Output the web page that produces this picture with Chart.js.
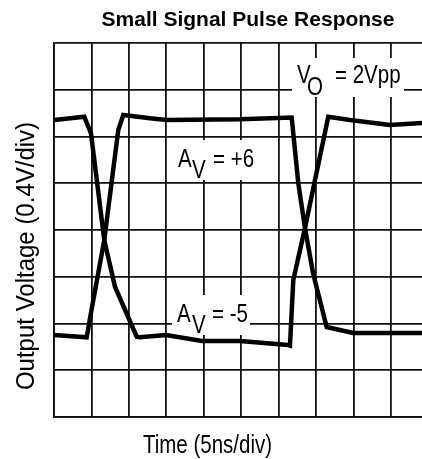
<!DOCTYPE html>
<html>
<head>
<meta charset="utf-8">
<script src="https://cdn.jsdelivr.net/npm/chart.js@4"></script>
<style>
  html, body { margin: 0; padding: 0; background: #fff; }
  #wrap { width: 422px; height: 459px; }
</style>
</head>
<body>
<div id="wrap"><canvas id="c" width="422" height="459"></canvas></div>
<script>
// ---- data (grid divisions: x = 5 ns/div, y = 0.4 V/div) ----
const gainPlusTime  = [0, 0.873, 0.988, 1.343, 1.717, 1.851, 2.564, 3.010, 4.968, 6.349, 6.525, 6.704, 6.918, 7.284, 7.986, 9.83];
const gainPlusVolt  = [1.754, 1.705, 2.225, 3.786, 6.139, 6.460, 6.389, 6.353, 6.368, 6.406, 5.005, 4.043, 3.080, 1.925, 1.797, 1.797];
const gainMinusTime = [0, 0.809, 0.988, 1.343, 1.629, 2.209, 2.297, 2.991, 3.953, 4.968, 6.250, 6.303, 6.392, 6.704, 7.326, 7.906, 8.974, 9.83];
const gainMinusVolt = [6.353, 6.424, 6.068, 3.786, 2.787, 1.718, 1.705, 1.754, 1.626, 1.626, 1.540, 1.529, 2.930, 4.043, 6.424, 6.353, 6.246, 6.289];
const xDivTicks = [0, 1, 2, 3, 4, 5, 6, 7, 8, 9];
const yDivTicks = [0, 1, 2, 3, 4, 5, 6, 7, 8];

const chartTitle = 'Small Signal Pulse Response';
const xAxisTitle = 'Time (5ns/div)';
const yAxisTitle = 'Output Voltage (0.4V/div)';
const labelVo = ['V', 'O', '= 2Vpp'];
const labelPlus = ['A', 'V', '= +6'];
const labelMinus = ['A', 'V', '= -5'];

const pts = (xs, ys) => xs.map((x, i) => ({ x: x, y: ys[i] }));

const NARROW = 0.82;
const FONT = 'Liberation Sans, Arial, sans-serif';

function narrowText(ctx, text, x, y, size, opts) {
  opts = opts || {};
  ctx.save();
  ctx.font = (opts.bold ? 'bold ' : '') + size + 'px ' + FONT;
  ctx.fillStyle = '#000';
  ctx.textBaseline = 'alphabetic';
  ctx.textAlign = opts.align || 'left';
  ctx.translate(x, y);
  if (opts.rotate) ctx.rotate(opts.rotate);
  ctx.scale(opts.sx || NARROW, 1);
  ctx.fillText(text, 0, 0);
  ctx.restore();
}

function subLabel(ctx, parts, x, y, xs, xr, subDy) {
  narrowText(ctx, parts[0], x, y, 25);
  narrowText(ctx, parts[1], xs, y + subDy, 25);
  narrowText(ctx, parts[2], xr, y, 25);
}

const textPlugin = {
  id: 'scopeText',
  beforeDatasetsDraw(chart) {
    const ctx = chart.ctx;
    ctx.save();
    ctx.fillStyle = '#fff';
    ctx.fillRect(292, 58, 112, 39);
    ctx.fillRect(175, 140, 87, 40);
    ctx.fillRect(172, 295, 78, 40);
    ctx.restore();
    subLabel(ctx, labelVo, 297, 83, 307, 335, 12);
    subLabel(ctx, labelPlus, 178, 167, 192, 213, 11);
    subLabel(ctx, labelMinus, 177, 322, 192, 212, 11);
  },
  afterDraw(chart) {
    const ctx = chart.ctx;
    narrowText(ctx, chartTitle, 248, 26, 21, { bold: true, align: 'center', sx: 1 });
    narrowText(ctx, xAxisTitle, 207.5, 453, 25, { align: 'center' });
    narrowText(ctx, yAxisTitle, 34, 256, 25, { align: 'center', rotate: -Math.PI / 2, sx: 0.96 });
  }
};

const gridOpts = { color: '#111', lineWidth: 1.8, drawTicks: false };
const borderOpts = { display: true, color: '#111', width: 1.8 };

new Chart(document.getElementById('c'), {
  type: 'line',
  data: {
    datasets: [
      { label: 'AV = +6', data: pts(gainPlusTime, gainPlusVolt), borderColor: '#000', borderWidth: 4.5, pointRadius: 0, tension: 0, fill: false },
      { label: 'AV = -5', data: pts(gainMinusTime, gainMinusVolt), borderColor: '#000', borderWidth: 4.5, pointRadius: 0, tension: 0, fill: false }
    ]
  },
  options: {
    responsive: false,
    animation: false,
    devicePixelRatio: 1,
    layout: { padding: { left: 54, top: 43, right: 0, bottom: 42 } },
    plugins: { legend: { display: false }, tooltip: { enabled: false }, title: { display: false } },
    scales: {
      x: {
        type: 'linear', min: 0, max: 9.83,
        ticks: { display: false },
        afterBuildTicks: (s) => { s.ticks = xDivTicks.map(v => ({ value: v })); },
        grid: gridOpts, border: borderOpts
      },
      y: {
        type: 'linear', min: 0, max: 8,
        ticks: { display: false },
        afterBuildTicks: (s) => { s.ticks = yDivTicks.map(v => ({ value: v })); },
        grid: gridOpts, border: borderOpts
      }
    }
  },
  plugins: [textPlugin]
});
</script>
</body>
</html>
